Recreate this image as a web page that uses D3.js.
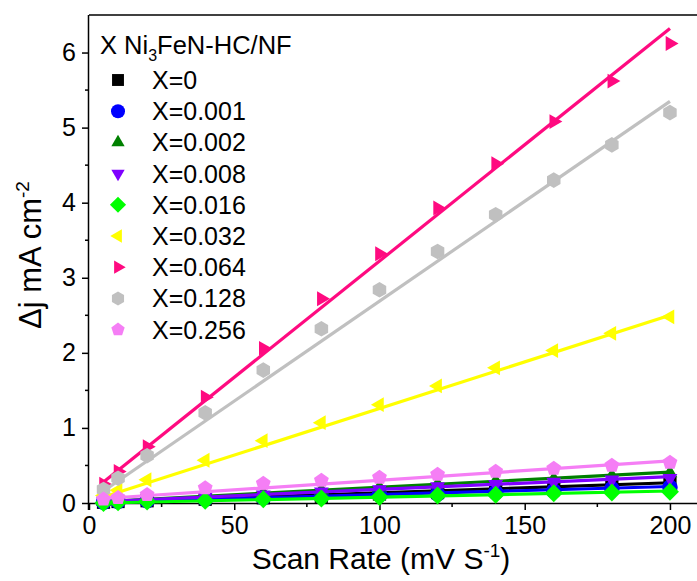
<!DOCTYPE html>
<html><head><meta charset="utf-8">
<script src="https://cdn.jsdelivr.net/npm/d3@7/dist/d3.min.js"></script>
<style>body{margin:0;background:#fff}svg{display:block}text{font-family:"Liberation Sans",Arial,sans-serif;fill:#000}</style>
</head><body><svg id="c" width="697" height="581"></svg>
<script>
const scanRate = [5,10,20,40,60,80,100,120,140,160,180,200];
const seriesNames = ["X=0","X=0.001","X=0.002","X=0.008","X=0.016","X=0.032","X=0.064","X=0.128","X=0.256"];
const vX0    = [0.01,0.02,0.03,0.05,0.07,0.09,0.12,0.14,0.17,0.20,0.23,0.26];
const vX001  = [0.01,0.02,0.03,0.05,0.07,0.09,0.11,0.12,0.14,0.16,0.19,0.21];
const vX002  = [0.02,0.03,0.05,0.09,0.13,0.17,0.21,0.25,0.29,0.32,0.36,0.40];
const vX008  = [0.02,0.03,0.05,0.08,0.11,0.15,0.18,0.22,0.25,0.28,0.31,0.33];
const vX016  = [0.00,0.01,0.02,0.03,0.05,0.06,0.08,0.10,0.11,0.13,0.14,0.15];
const vX032  = [0.10,0.17,0.31,0.57,0.83,1.07,1.31,1.56,1.80,2.03,2.26,2.48];
const vX064  = [0.25,0.42,0.75,1.41,2.06,2.72,3.32,3.93,4.52,5.08,5.62,6.12];
const vX128  = [0.18,0.33,0.63,1.20,1.77,2.32,2.84,3.35,3.84,4.30,4.77,5.20];
const vX256  = [0.05,0.07,0.11,0.20,0.26,0.30,0.34,0.38,0.42,0.46,0.50,0.54];
// linear fit lines: value at first and last scan rate
const fitStart = [0.01,0.01,0.02,0.02,0.00,0.08,0.28,0.16,0.06];
const fitEnd   = [0.27,0.22,0.41,0.35,0.16,2.50,6.32,5.35,0.56];
const xTicks = [0,50,100,150,200];
const yTicks = [0,1,2,3,4,5,6];

const values = [vX0,vX001,vX002,vX008,vX016,vX032,vX064,vX128,vX256];
const colors = ["#000000","#0000ff","#008000","#7f00ff","#00ff00","#ffff00","#ff0a80","#c0c0c0","#f57ef5"];
const shapes = ["square","circle","up","down","diamond","left","right","hexagon","pentagon"];

const svg = d3.select("#c");
const L=89, R=699, T=15, B=503;
const x = d3.scaleLinear().domain([0,210]).range([L,R]);
const y = d3.scaleLinear().domain([0,6.5]).range([B,T]);

function poly(n, r, rot){
  const p=[];
  for(let i=0;i<n;i++){const a=rot+i*2*Math.PI/n;p.push([r*Math.cos(a),r*Math.sin(a)]);}
  return "M"+p.map(d=>d[0].toFixed(2)+","+d[1].toFixed(2)).join("L")+"Z";
}
function shapePath(s, r){
  switch(s){
    case "square": return `M${-r*0.85},${-r*0.85}h${r*1.7}v${r*1.7}h${-r*1.7}Z`;
    case "circle": return d3.symbol(d3.symbolCircle, Math.PI*r*r)();
    case "up": return poly(3, r*1.1, -Math.PI/2);
    case "down": return poly(3, r*1.1, Math.PI/2);
    case "left": return poly(3, r*1.1, Math.PI);
    case "right": return poly(3, r*1.1, 0);
    case "diamond": return poly(4, r*1.15, 0);
    case "hexagon": return poly(6, r, Math.PI/6);
    case "pentagon": return poly(5, r, -Math.PI/2);
  }
}

// frame top
svg.append("line").attr("x1",L).attr("x2",R).attr("y1",T).attr("y2",T).attr("stroke","#000").attr("stroke-width",1.5);
svg.append("line").attr("x1",R).attr("x2",R).attr("y1",T).attr("y2",B).attr("stroke","#000").attr("stroke-width",1.5);

// axes
const xAxis = d3.axisBottom(x).tickValues(xTicks).tickSize(7).tickPadding(6).tickFormat(d3.format("d"));
const gx = svg.append("g").attr("transform",`translate(0,${B})`).call(xAxis);
const yAxis = d3.axisLeft(y).tickValues(yTicks).tickSize(7).tickPadding(6).tickFormat(d3.format("d"));
const gy = svg.append("g").attr("transform",`translate(${L},0)`).call(yAxis);
[gx,gy].forEach(g=>{
  g.select(".domain").attr("stroke-width",1.5);
  g.selectAll(".tick line").attr("stroke-width",1.5);
  g.selectAll(".tick text").style("font-size","25px").style("font-family",'"Liberation Sans",Arial,sans-serif');
});
gx.select(".domain").attr("d",`M${L},0.5H${R}`);
gy.select(".domain").attr("d",`M-0.5,${T}V${B+7}`);
// minor ticks
const xMinor = d3.range(25,210,50);
svg.append("g").selectAll("line").data(xMinor).join("line")
  .attr("x1",d=>x(d)).attr("x2",d=>x(d)).attr("y1",B).attr("y2",B+4).attr("stroke","#000").attr("stroke-width",1.5);
const yMinor = d3.range(0.5,6.5,1);
svg.append("g").selectAll("line").data(yMinor).join("line")
  .attr("x1",L-4).attr("x2",L).attr("y1",d=>y(d)).attr("y2",d=>y(d)).attr("stroke","#000").attr("stroke-width",1.5);

// fit lines and markers
const plot = svg.append("g");
values.forEach((vals,i)=>{
  plot.append("line")
    .attr("x1",x(scanRate[0])).attr("y1",y(fitStart[i]))
    .attr("x2",x(scanRate[scanRate.length-1])).attr("y2",y(fitEnd[i]))
    .attr("stroke",colors[i]).attr("stroke-width",3.2);
  plot.append("g").selectAll("path").data(vals).join("path")
    .attr("d",shapePath(shapes[i],7.8))
    .attr("transform",(d,j)=>`translate(${x(scanRate[j])},${y(d)})`)
    .attr("fill",colors[i]);
});

// legend
const lg = svg.append("g");
const title = lg.append("text").attr("x",100).attr("y",54).style("font-size","25.5px");
title.append("tspan").text("X Ni");
title.append("tspan").text("3").attr("dy",7).style("font-size","16px");
title.append("tspan").text("FeN-HC/NF").attr("dy",-7);
seriesNames.forEach((n,i)=>{
  const cy = 80 + i*31.2;
  lg.append("path").attr("d",shapePath(shapes[i],7)).attr("transform",`translate(118,${cy})`).attr("fill",colors[i]);
  lg.append("text").attr("x",152).attr("y",cy+9).style("font-size","25px").text(n);
});

// axis titles
const xt = svg.append("text").attr("x",381).attr("y",569).attr("text-anchor","middle").style("font-size","30px");
xt.append("tspan").text("Scan Rate (mV S");
xt.append("tspan").text("-1").attr("dy",-12).style("font-size","19px");
xt.append("tspan").text(")").attr("dy",12);
const yt = svg.append("text").attr("transform","translate(41,255) rotate(-90)").attr("text-anchor","middle").style("font-size","31px");
yt.append("tspan").text("Δj mA cm");
yt.append("tspan").text("-2").attr("dy",-12).style("font-size","19px");
</script></body></html>
